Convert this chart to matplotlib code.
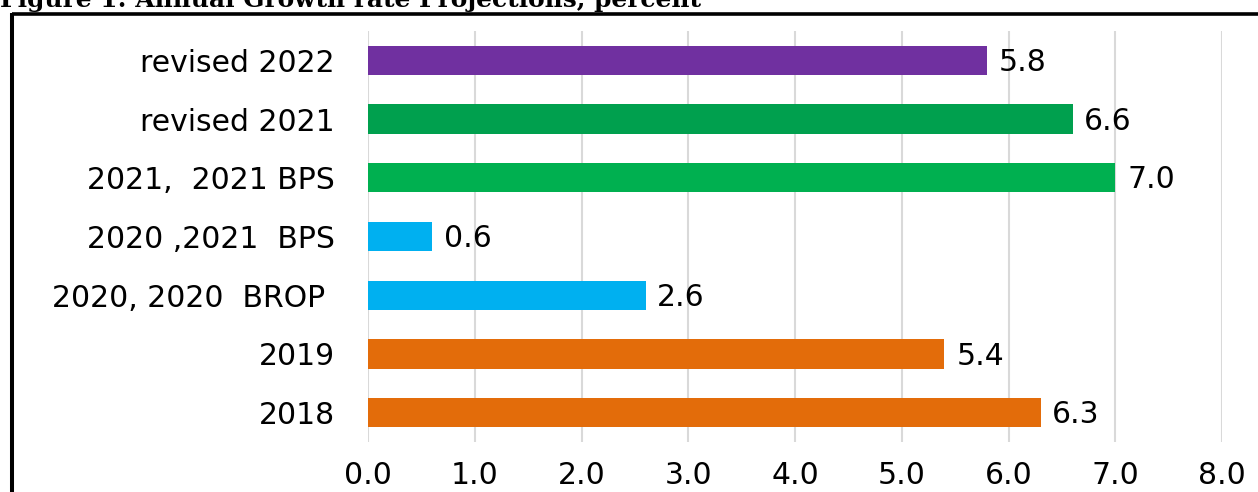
import matplotlib.pyplot as plt
from matplotlib.lines import Line2D

# growth rate projections, listed bottom to top
labels = ["2018", "2019", "2020, 2020  BROP ", "2020 ,2021  BPS",
          "2021,  2021 BPS", "revised 2021", "revised 2022"]
values = [6.3, 5.4, 2.6, 0.6, 7.0, 6.6, 5.8]
colors = ["#E36C0A", "#E36C0A", "#00B0F0", "#00B0F0",
          "#00B050", "#00A04E", "#7030A0"]
xticks = [0, 1, 2, 3, 4, 5, 6, 7, 8]

plt.rcParams["font.family"] = ["DejaVu Sans"]
fs = 21.5

fig = plt.figure(figsize=(12.58, 4.92), dpi=100)
ax = fig.add_axes([368 / 1258, 1 - 442 / 492, (1222 - 368) / 1258, 411 / 492])

pos = list(range(len(labels)))
ax.barh(pos, values, height=0.5, color=colors, zorder=3)

for p, v in zip(pos, values):
    ax.annotate(f"{v:.1f}", (v, p), xytext=(8.5, -1.5), textcoords="offset points",
                va="center", ha="left", fontsize=fs)

ax.set_xlim(0, 8)
ax.set_ylim(-0.5, len(labels) - 0.5)
ax.set_xticks(xticks)
ax.set_xticklabels([f"{t:.1f}" for t in xticks], fontsize=fs)
ax.set_yticks(pos)
ax.set_yticklabels(labels, fontsize=fs)
ax.tick_params(axis="y", length=0, pad=24)
ax.tick_params(axis="x", length=0, pad=14)

ax.grid(axis="x", color="#D9D9D9", lw=1.5, zorder=0)
for s in ax.spines.values():
    s.set_visible(False)

# frame around the figure (top and left edges)
fig.add_artist(Line2D([12 / 1258, 1], [1 - 14 / 492, 1 - 14 / 492],
                      color="black", lw=2.6, transform=fig.transFigure,
                      solid_capstyle="butt"))
fig.add_artist(Line2D([12 / 1258, 12 / 1258], [0, 1 - 12.5 / 492],
                      color="black", lw=2.9, transform=fig.transFigure,
                      solid_capstyle="butt"))

fig.text(0, 1 - 7.5 / 492, "Figure 1: Annual Growth rate Projections, percent",
         family="DejaVu Serif", weight="bold", fontsize=17.9,
         ha="left", va="baseline")

fig.savefig("out.png", dpi=100)
